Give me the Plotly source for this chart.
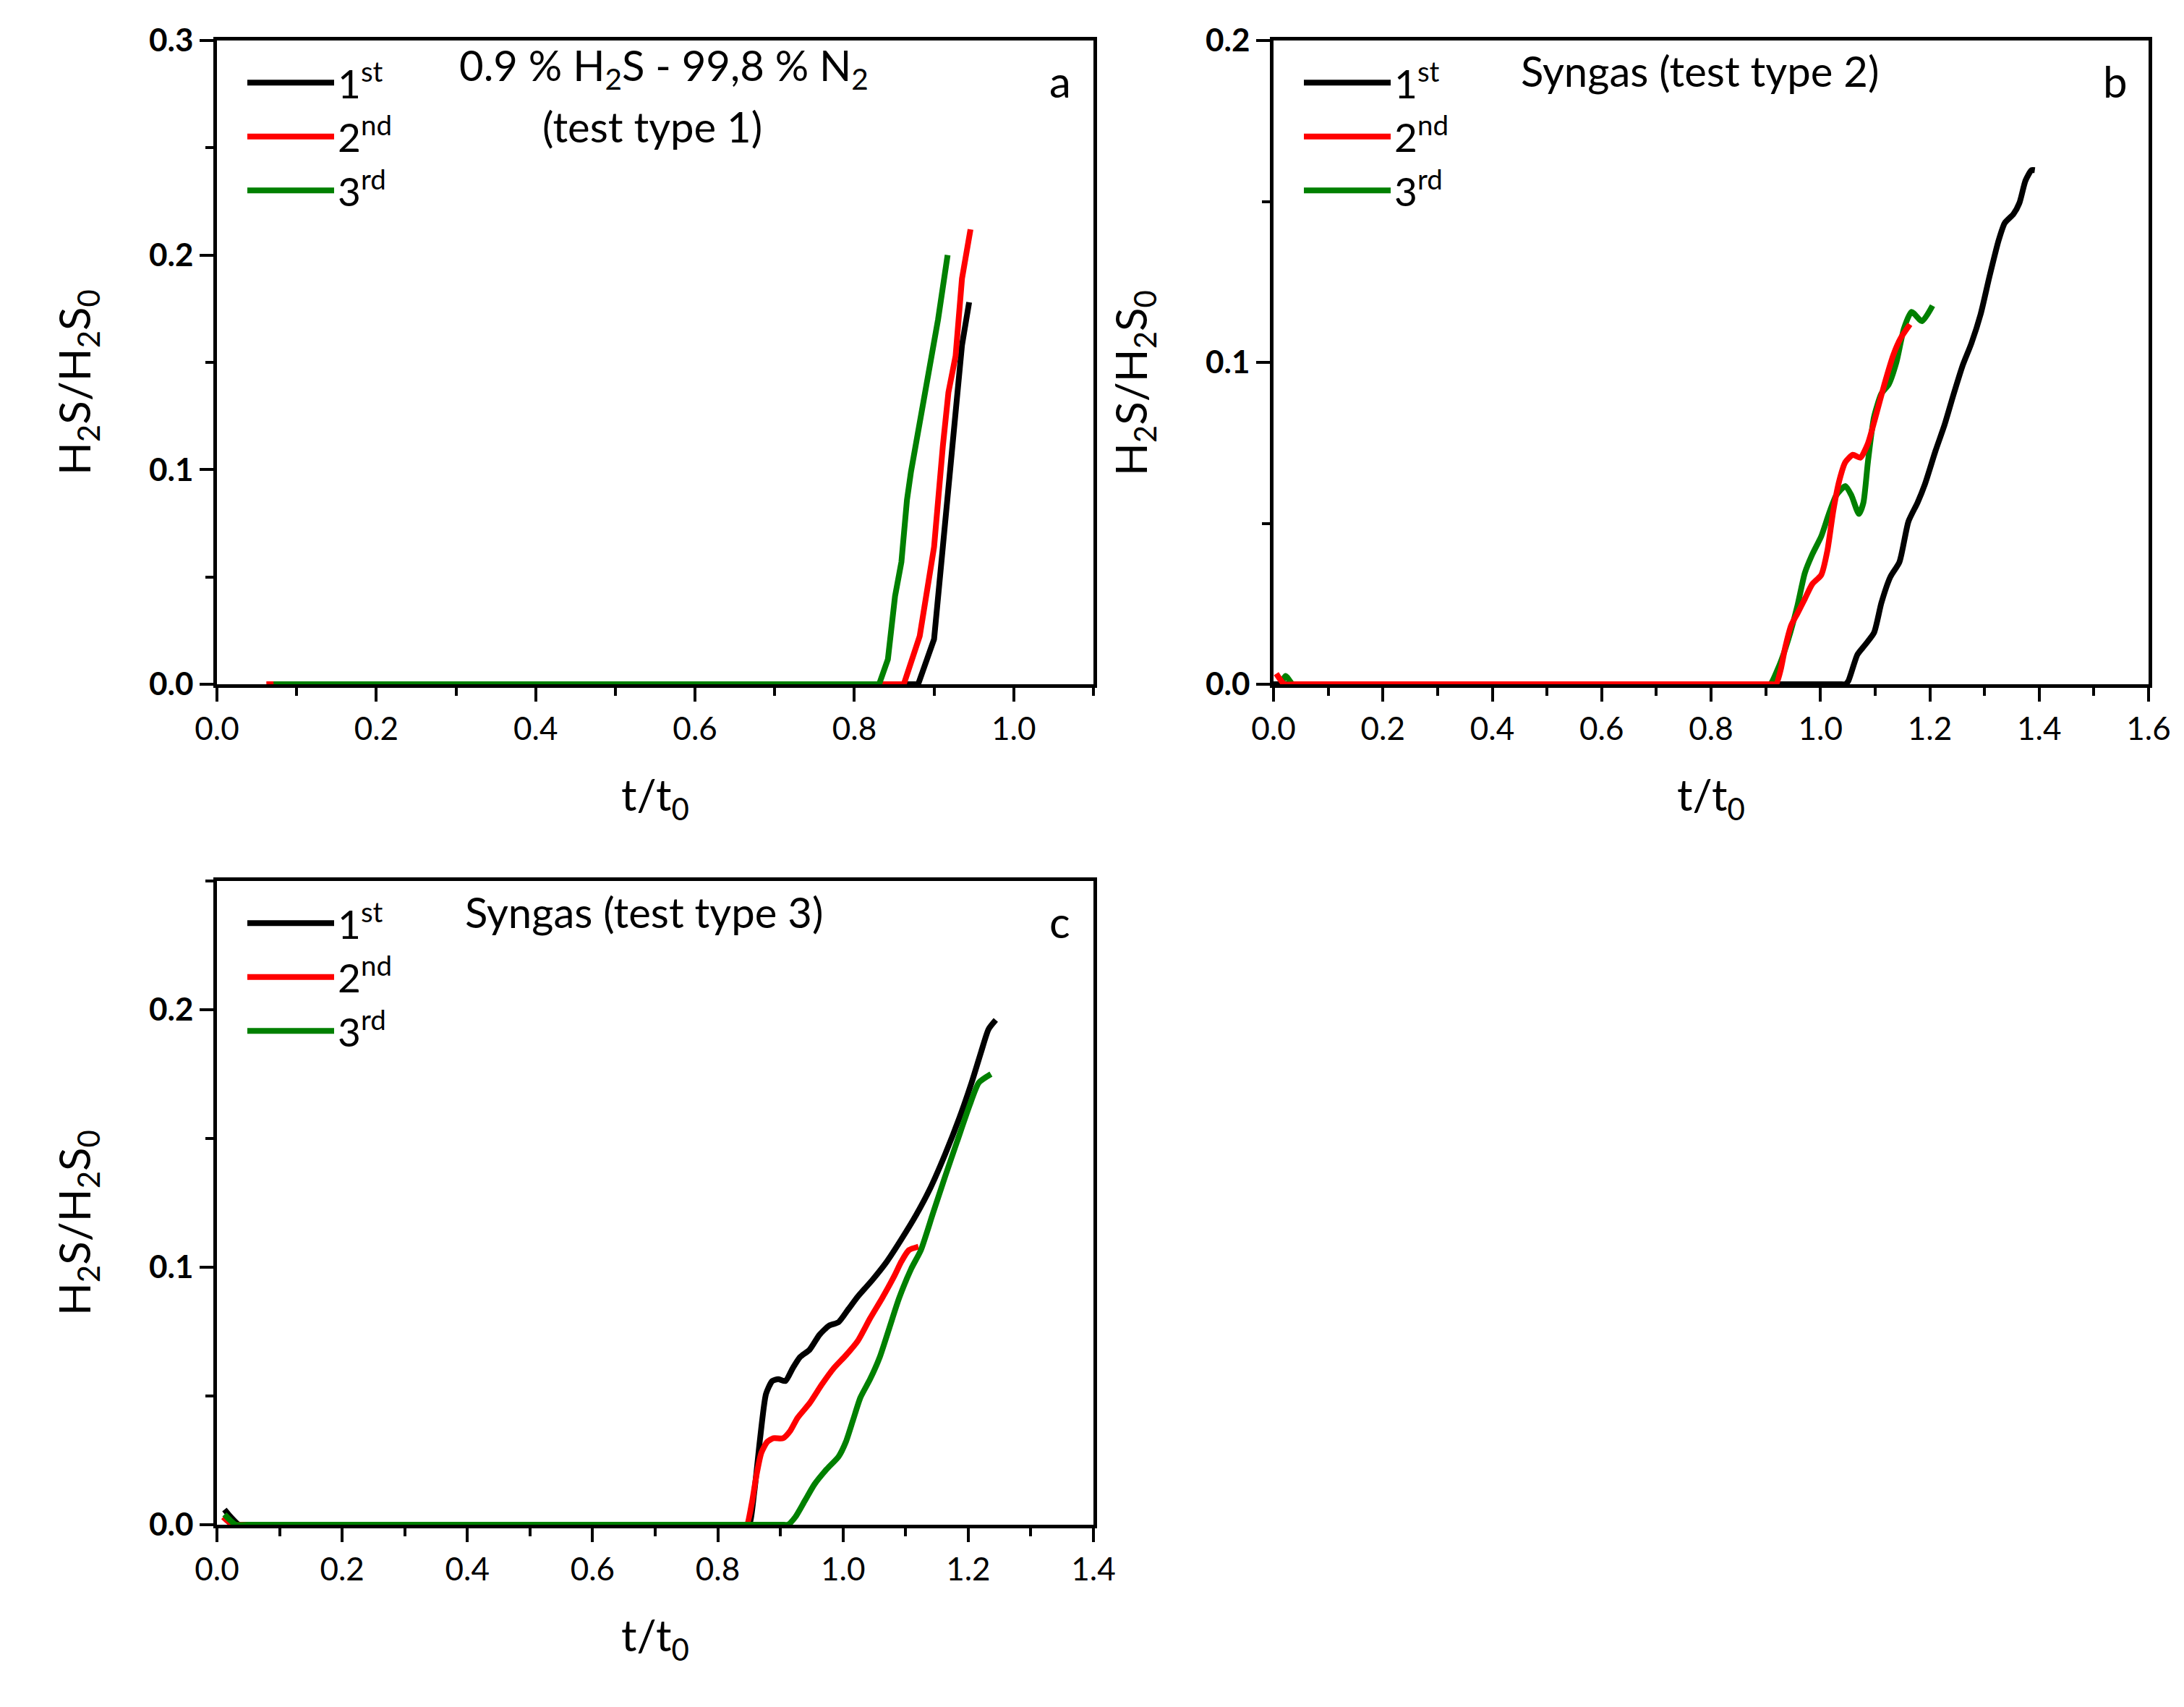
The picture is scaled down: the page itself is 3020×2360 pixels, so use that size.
import plotly.graph_objects as go

# ---------------- data ----------------
series_names = ["1<sup>st</sup>", "2<sup>nd</sup>", "3<sup>rd</sup>"]

# panel a : 0.9 % H2S - 99,8 % N2 (test type 1)
a_black_x = [0.07, 0.88, 0.90, 0.911, 0.923, 0.935, 0.944]
a_black_y = [0.0, 0.0, 0.021, 0.064, 0.106, 0.158, 0.178]
a_red_x = [0.062, 0.862, 0.882, 0.900, 0.911, 0.918, 0.927, 0.935, 0.9457]
a_red_y = [0.0, 0.0, 0.0225, 0.064, 0.111, 0.136, 0.153, 0.189, 0.212]
a_green_x = [0.071, 0.831, 0.842, 0.851, 0.859, 0.866, 0.871, 0.880, 0.892, 0.905, 0.917]
a_green_y = [0.0, 0.0, 0.0116, 0.041, 0.057, 0.086, 0.099, 0.117, 0.142, 0.170, 0.200]

# panel b : Syngas (test type 2)
b_black_x = [0.0, 0.5, 1.0, 1.035, 1.0456, 1.051, 1.0676, 1.081, 1.098, 1.1115, 1.128, 1.1445,
             1.161, 1.1775, 1.191, 1.2104, 1.227, 1.243, 1.26, 1.276, 1.293, 1.309, 1.326,
             1.337, 1.353, 1.364, 1.375, 1.386, 1.392]
b_black_y = [0.0, 0.0, 0.0, 0.0, 0.0, 0.001, 0.0092, 0.0121, 0.016, 0.0253, 0.0334, 0.038,
             0.0506, 0.0564, 0.0621, 0.0725, 0.0806, 0.0898, 0.099, 0.1059, 0.115, 0.1266,
             0.138, 0.1433, 0.1461, 0.1496, 0.1565, 0.1597, 0.1597]
b_red_x = [0.005, 0.02, 0.04, 0.08, 0.5, 0.9, 0.912, 0.919, 0.9275, 0.9357, 0.9467, 0.9577,
           0.9714, 0.985, 1.0016, 1.0126, 1.0236, 1.0346, 1.0456, 1.0593, 1.073, 1.0868, 1.1005,
           1.117, 1.1335, 1.147, 1.1637]
b_red_y = [0.0033, 0.0, 0.0, 0.0, 0.0, 0.0, 0.0, 0.0, 0.0046, 0.0115, 0.0184, 0.0219, 0.0265,
           0.0311, 0.034, 0.0414, 0.054, 0.0633, 0.069, 0.0713, 0.0704, 0.0748, 0.0829, 0.0932,
           0.1024, 0.1076, 0.1118]
b_green_x = [0.015, 0.022, 0.035, 0.05, 0.09, 0.5, 0.89, 0.9, 0.908, 0.9247, 0.941, 0.9577,
             0.9714, 0.985, 1.0016, 1.0154, 1.029, 1.0456, 1.0566, 1.0703, 1.0786, 1.0868,
             1.0978, 1.1115, 1.125, 1.139, 1.1527, 1.1665, 1.1857, 1.205]
b_green_y = [0.0005, 0.0026, 0.0, 0.0, 0.0, 0.0, 0.0, 0.0, 0.0, 0.0058, 0.0138, 0.0242, 0.0345,
             0.0403, 0.046, 0.0529, 0.0587, 0.0616, 0.0587, 0.0529, 0.0564, 0.069, 0.0829,
             0.0903, 0.0932, 0.1001, 0.1105, 0.1157, 0.1128, 0.1176]

# panel c : Syngas (test type 3)
c_black_x = [0.012, 0.022, 0.035, 0.05, 0.09, 0.5, 0.83, 0.843, 0.85, 0.858, 0.8676, 0.877,
             0.8869, 0.8965, 0.908, 0.9197, 0.9313, 0.9467, 0.9622, 0.9776, 0.993, 1.0085,
             1.0239, 1.047, 1.0703, 1.0934, 1.1166, 1.1398, 1.163, 1.186, 1.2054, 1.2208,
             1.2324, 1.244]
c_black_y = [0.0059, 0.003, 0.0, 0.0, 0.0, 0.0, 0.0, 0.0, 0.0, 0.0122, 0.0336, 0.0508, 0.0558,
             0.0565, 0.0558, 0.0608, 0.0651, 0.068, 0.0737, 0.0773, 0.0787, 0.0837, 0.0887,
             0.0951, 0.1023, 0.1109, 0.1202, 0.1309, 0.1438, 0.1581, 0.1717, 0.1838, 0.1924,
             0.196]
c_red_x = [0.01, 0.025, 0.045, 0.09, 0.5, 0.83, 0.84, 0.8463, 0.854, 0.8618, 0.8695, 0.879,
           0.8888, 0.9042, 0.9158, 0.9274, 0.9467, 0.966, 0.9853, 1.0046, 1.0239, 1.0432,
           1.0625, 1.0819, 1.0934, 1.105, 1.1205]
c_red_y = [0.003, 0.0, 0.0, 0.0, 0.0, 0.0, 0.0, 0.0, 0.0079, 0.0193, 0.0279, 0.0322, 0.0336,
           0.0336, 0.0365, 0.0415, 0.0472, 0.0544, 0.0608, 0.0658, 0.0715, 0.0801, 0.088,
           0.0966, 0.1023, 0.1066, 0.108]
c_green_x = [0.012, 0.03, 0.05, 0.09, 0.5, 0.89, 0.903, 0.912, 0.9236, 0.939, 0.9544, 0.9737,
             0.993, 1.0046, 1.0162, 1.0278, 1.0432, 1.0587, 1.0741, 1.0896, 1.1089, 1.1243,
             1.1436, 1.163, 1.1822, 1.2015, 1.217, 1.2363]
c_green_y = [0.004, 0.0, 0.0, 0.0, 0.0, 0.0, 0.0, 0.0, 0.0029, 0.0093, 0.0157, 0.0215, 0.0265,
             0.0322, 0.0408, 0.0494, 0.0565, 0.0651, 0.0765, 0.088, 0.0994, 0.1066, 0.1209,
             0.1352, 0.1488, 0.1624, 0.1717, 0.175]

panel_titles = [["0.9 % H<sub>2</sub>S - 99,8 % N<sub>2</sub>", "(test type 1)"],
                ["Syngas (test type 2)"], ["Syngas (test type 3)"]]
panel_letters = ["a", "b", "c"]
x_title = "t/t<sub>0</sub>"
y_title = "H<sub>2</sub>S/H<sub>2</sub>S<sub>0</sub>"

# ---------------- styling ----------------
W, H = 3020, 2360
FONT = "Lato"
COLORS = ["#000000", "#ff0000", "#008000"]
LW = 8

# panel boxes in pixels (left, right, top, bottom)
boxes = {
    "a": (300, 1512, 56, 946),
    "b": (1761, 2971, 56, 946),
    "c": (300, 1512, 1218, 2108),
}

def dom(box):
    l, r, t, b = box
    return [l / W, r / W], [1 - b / H, 1 - t / H]

fig = go.Figure()

panels = [
    ("a", "x", "y", "legend",
     [(a_black_x, a_black_y, 0), (a_red_x, a_red_y, 1), (a_green_x, a_green_y, 2)], "linear"),
    ("b", "x2", "y2", "legend2",
     [(b_black_x, b_black_y, 0), (b_green_x, b_green_y, 2), (b_red_x, b_red_y, 1)], "spline"),
    ("c", "x3", "y3", "legend3",
     [(c_black_x, c_black_y, 0), (c_red_x, c_red_y, 1), (c_green_x, c_green_y, 2)], "spline"),
]

for key, xa, ya, lg, traces, shape in panels:
    for xs, ys, idx in traces:
        line = dict(color=COLORS[idx], width=LW, shape=shape)
        if shape == "spline":
            line["smoothing"] = 0.6
        fig.add_trace(go.Scatter(
            x=xs, y=ys, mode="lines", name=series_names[idx], line=line,
            xaxis=xa, yaxis=ya, legend=lg, legendrank=idx + 1, showlegend=True,
            legendgroup=f"{key}{idx}",
        ))

axis_common = dict(
    showline=True, linecolor="black", linewidth=4.5, mirror=True,
    ticks="outside", ticklen=19, tickwidth=4, tickcolor="black",
    showgrid=False, zeroline=False, automargin=False,
)
minor_common = dict(ticks="outside", ticklen=11, tickwidth=4, tickcolor="black", showgrid=False)

xranges = {"a": (0, 1.1), "b": (0, 1.6), "c": (0, 1.4)}
yranges = {"a": (0, 0.3), "b": (0, 0.2), "c": (0, 0.25)}
names = {"a": ("xaxis", "yaxis", "y", "x"), "b": ("xaxis2", "yaxis2", "y2", "x2"),
         "c": ("xaxis3", "yaxis3", "y3", "x3")}

for key in ["a", "b", "c"]:
    xd, yd = dom(boxes[key])
    xn, yn, anchy, anchx = names[key]
    fig.layout[xn] = dict(
        axis_common, domain=xd, anchor=anchy, range=list(xranges[key]),
        dtick=0.2, tick0=0, tickformat=".1f", minor=dict(minor_common, dtick=0.1),
        tickfont=dict(family=FONT, size=44, color="black"),
    )
    fig.layout[yn] = dict(
        axis_common, domain=yd, anchor=anchx, range=list(yranges[key]),
        dtick=0.1, tick0=0, tickformat=".1f", minor=dict(minor_common, dtick=0.05),
        tickfont=dict(family=FONT, size=44, color="black", weight="bold"),
    )

# legends
leg_common = dict(
    font=dict(family=FONT, size=55, color="black"), bgcolor="rgba(0,0,0,0)",
    xanchor="left", yanchor="top", itemwidth=120, borderwidth=0, tracegroupgap=0,
    traceorder="grouped",
)
fig.layout.legend = dict(leg_common, x=337 / W, y=1 - 72 / H)
fig.layout.legend2 = dict(leg_common, x=(337 + 1461) / W, y=1 - 72 / H)
fig.layout.legend3 = dict(leg_common, x=337 / W, y=1 - (72 + 1162) / H)

annotations = []
# panel titles: (x domain, y pixel offset from panel top) for each line
title_lines = {"a": [(0.51, 38), (0.497, 119)], "b": [(0.487, 42)], "c": [(0.487, 42)]}
axn = {"a": ("x", "y"), "b": ("x2", "y2"), "c": ("x3", "y3")}
for i, key in enumerate(["a", "b", "c"]):
    xr, yr = axn[key]
    l, r, t, b = boxes[key]
    for (tx, dy), txt in zip(title_lines[key], panel_titles[i]):
        annotations.append(dict(
            text=txt, x=tx, y=1 - dy / (b - t), xref=f"{xr} domain", yref=f"{yr} domain",
            xanchor="center", yanchor="middle", showarrow=False, align="center",
            font=dict(family=FONT, size=58, color="black"),
        ))
    annotations.append(dict(
        text=panel_letters[i], x=0.962, y=1 - 56 / (b - t), xref=f"{xr} domain",
        yref=f"{yr} domain", xanchor="center", yanchor="middle", showarrow=False,
        font=dict(family=FONT, size=60, color="black"),
    ))
    # x axis title
    annotations.append(dict(
        text=x_title, x=(l + r) / 2 / W, y=1 - (b + 156) / H, xref="paper", yref="paper",
        xanchor="center", yanchor="middle", showarrow=False,
        font=dict(family=FONT, size=60, color="black"),
    ))
    # y axis title
    annotations.append(dict(
        text=y_title, x=(l - 194) / W, y=1 - ((t + b) / 2 + 28) / H, xref="paper", yref="paper",
        xanchor="center", yanchor="middle", showarrow=False, textangle=-90,
        font=dict(family=FONT, size=60, color="black"),
    ))

fig.update_layout(
    width=W, height=H, margin=dict(l=0, r=0, t=0, b=0, autoexpand=False),
    paper_bgcolor="white", plot_bgcolor="white",
    annotations=annotations, showlegend=True,
    font=dict(family=FONT, color="black"),
)

fig.write_html("out.html")
